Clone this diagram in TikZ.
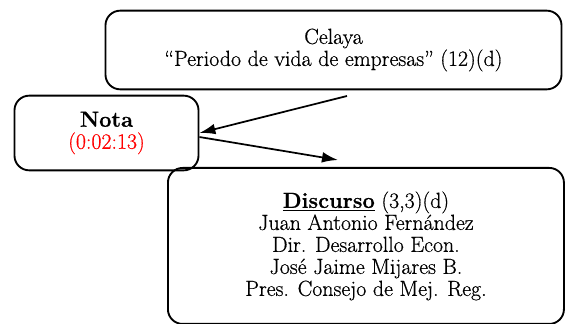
\documentclass[tikz,border=0pt]{standalone}
\usepackage{fontspec}
\setmainfont{Latin Modern Roman}[FakeBold=0.6]
\usepackage{xcolor}
\usepackage{tikz}
\usetikzlibrary{arrows.meta, positioning}

\begin{document}
\begin{tikzpicture}[x=0.75pt, y=-0.75pt,
  >={Latex[length=12pt,width=8pt]},
  every node/.style={font=\fontsize{16.4}{16.5}\selectfont},
  card/.style={draw=black, line width=1.4pt, rounded corners=11pt, align=center},
  link/.style={->, line width=1.3pt}
]
\useasboundingbox (0,0) rectangle (565,324);
\node[card, minimum width=342pt, minimum height=59pt] (celaya) at (333.5,50)
  {Celaya\\``Periodo de vida de empresas'' (12)(d)};
\node[card, minimum width=138pt, minimum height=56pt] (nota) at (106.5,133)
  {\textbf{Nota}\\\textcolor{red}{(0:02:13)}};
\node[card, minimum width=297pt, minimum height=117pt, anchor=north west] (disc) at (167,167)
  {\textbf{\underline{Discurso}} (3,3)(d)\\
   Juan Antonio Fern\'andez\\
   Dir. Desarrollo Econ.\\
   Jos\'e Jaime Mijares B.\\
   Pres. Consejo de Mej. Reg.};
\coordinate (from) at (347,96);
\coordinate (to) at (338,160);
\draw[link] (from) -- (nota.east);
\draw[link] ([yshift=-3pt]nota.east) -- (to);
\end{tikzpicture}
\end{document}
